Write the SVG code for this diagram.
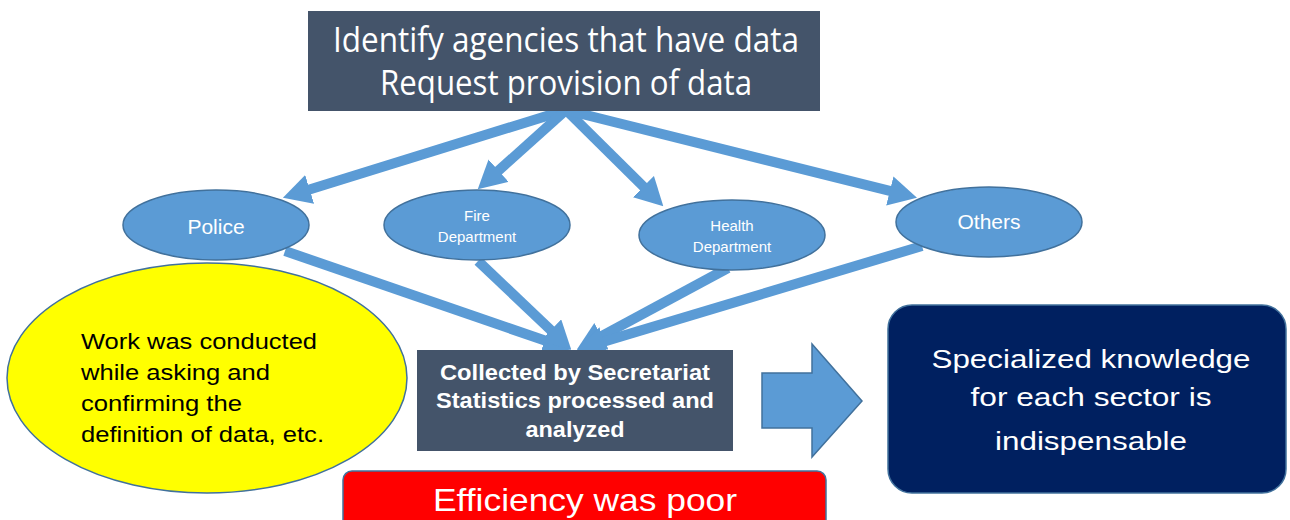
<svg xmlns="http://www.w3.org/2000/svg" width="1290" height="520" viewBox="0 0 1290 520">
<style>
.box{fill:#44546A}
.ell{fill:#5B9BD5;stroke:#41719C;stroke-width:1.5}
.conn{stroke:#5B9BD5;stroke-width:10;fill:none;marker-end:url(#ah)}
.wt{fill:#FFFFFF;font-family:"Liberation Sans",Arial,sans-serif;text-anchor:middle}
.top{fill:#FFFFFF;font-family:"Open Sans","Liberation Sans",sans-serif;font-size:34px;text-anchor:middle}
.bold{font-weight:bold}
</style>
<defs>
<marker id="ah" markerUnits="userSpaceOnUse" viewBox="0 0 28 30" markerWidth="28" markerHeight="30" refX="1" refY="15" orient="auto">
<path d="M0,0 L28,15 L0,30 z" fill="#5B9BD5"/>
</marker>
</defs>
<rect width="1290" height="520" fill="#FFFFFF"/>

<g id="connectors">
<path class="conn" d="M566,110 L308.7,189.7"/>
<path class="conn" d="M566,110 L497.8,171.3"/>
<path class="conn" d="M566,110 L644.1,187.3"/>
<path class="conn" d="M566,110 L890.8,191.2"/>
<path class="conn" d="M285,251 L545.6,340.8"/>
<path class="conn" d="M478,261 L551.6,330.9"/>
<path class="conn" d="M728,268 L600.6,336.7"/>
<path class="conn" d="M922,246 L602.8,341.9"/>
</g>

<g id="identify">
<rect class="box" x="308" y="11" width="512" height="100"/>
<text class="top" x="566" y="52" textLength="466" lengthAdjust="spacingAndGlyphs">Identify agencies that have data</text>
<text class="top" x="566" y="95" textLength="372" lengthAdjust="spacingAndGlyphs">Request provision of data</text>
</g>

<g id="police">
<ellipse class="ell" cx="216" cy="225" rx="93" ry="35"/>
<text class="wt" x="216" y="234" font-size="21">Police</text>
</g>
<g id="fire">
<ellipse class="ell" cx="477" cy="225" rx="93" ry="35"/>
<text class="wt" x="477" y="221" font-size="15">Fire</text>
<text class="wt" x="477" y="242" font-size="15">Department</text>
</g>
<g id="health">
<ellipse class="ell" cx="732" cy="235" rx="93" ry="35"/>
<text class="wt" x="732" y="231" font-size="15">Health</text>
<text class="wt" x="732" y="252" font-size="15">Department</text>
</g>
<g id="others">
<ellipse class="ell" cx="989" cy="222" rx="93" ry="35"/>
<text class="wt" x="989" y="229" font-size="21">Others</text>
</g>

<g id="note">
<ellipse cx="207" cy="378" rx="200" ry="115" fill="#FFFF00" stroke="#41719C" stroke-width="1.5"/>
<g font-family="Liberation Sans, Arial, sans-serif" font-size="22" fill="#000000">
<text x="81" y="349" textLength="236" lengthAdjust="spacingAndGlyphs">Work was conducted</text>
<text x="81" y="380" textLength="189" lengthAdjust="spacingAndGlyphs">while asking and</text>
<text x="81" y="411" textLength="161" lengthAdjust="spacingAndGlyphs">confirming the</text>
<text x="81" y="442" textLength="243" lengthAdjust="spacingAndGlyphs">definition of data, etc.</text>
</g>
</g>

<g id="secretariat">
<rect class="box" x="417" y="350" width="316" height="101"/>
<text class="wt bold" x="575" y="380" font-size="22" textLength="270" lengthAdjust="spacingAndGlyphs">Collected by Secretariat</text>
<text class="wt bold" x="575" y="408" font-size="22" textLength="278" lengthAdjust="spacingAndGlyphs">Statistics processed and</text>
<text class="wt bold" x="575" y="437" font-size="22" textLength="99" lengthAdjust="spacingAndGlyphs">analyzed</text>
</g>

<g id="efficiency">
<rect x="343" y="471" width="483" height="70" rx="9" fill="#FF0000" stroke="#41719C" stroke-width="1.5"/>
<text class="wt" x="585" y="511" font-size="32" textLength="304" lengthAdjust="spacingAndGlyphs">Efficiency was poor</text>
</g>

<g id="bigarrow">
<path d="M762,373 L812,373 L812,344 L862,401 L812,457 L812,428 L762,428 z" fill="#5B9BD5" stroke="#41719C" stroke-width="1.5"/>
</g>

<g id="knowledge">
<rect x="888" y="305" width="398" height="188" rx="24" fill="#002060" stroke="#41719C" stroke-width="1.5"/>
<text class="wt" x="1091" y="368" font-size="25" textLength="319" lengthAdjust="spacingAndGlyphs">Specialized knowledge</text>
<text class="wt" x="1091" y="406" font-size="25" textLength="241" lengthAdjust="spacingAndGlyphs">for each sector is</text>
<text class="wt" x="1091" y="450" font-size="25" textLength="192" lengthAdjust="spacingAndGlyphs">indispensable</text>
</g>
</svg>
